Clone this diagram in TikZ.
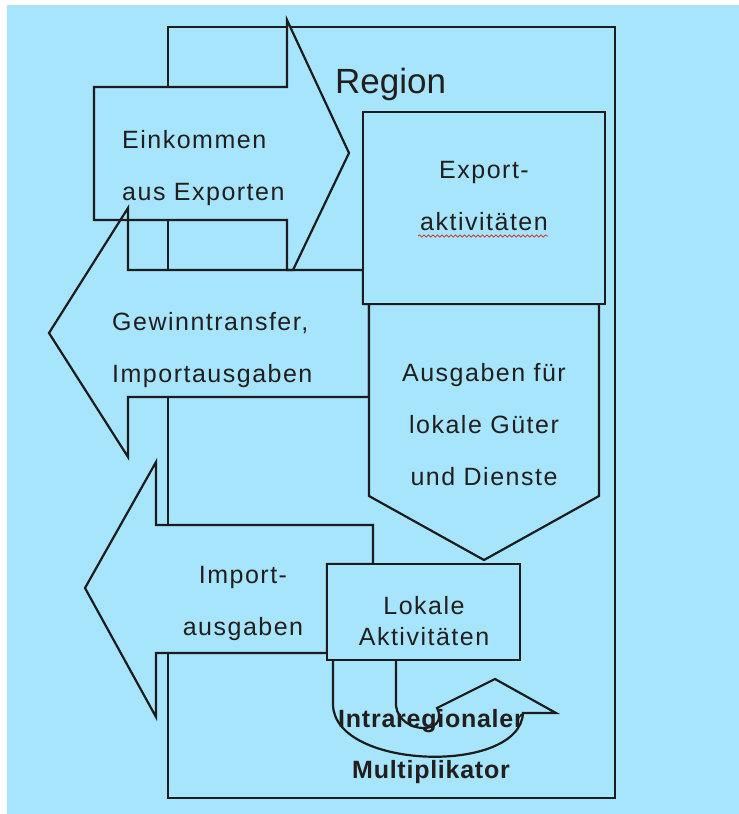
\documentclass[tikz,border=0pt]{standalone}
\usepackage{fontspec}
\setmainfont{Liberation Sans}
\newfontfamily\labelfont[LetterSpace=6]{Liberation Sans}
\newfontfamily\multfont[LetterSpace=3]{Liberation Sans}
\usetikzlibrary{decorations.pathmorphing}

\definecolor{skyfill}{RGB}{166,229,252}
\definecolor{inkline}{RGB}{28,28,28}
\definecolor{textink}{RGB}{34,30,30}
\definecolor{spellred}{RGB}{205,40,40}

\tikzset{
  outline/.style={draw=inkline, line width=2.2pt, line join=miter},
  panel/.style={outline, fill=skyfill},
  lbl/.style={font=\labelfont\fontsize{25}{52}\selectfont, text=textink, inner sep=0pt},
  smalllbl/.style={font=\labelfont\fontsize{25}{31}\selectfont, text=textink, inner sep=0pt},
  boldlbl/.style={font=\multfont\bfseries\fontsize{25}{51}\selectfont, text=textink, inner sep=0pt},
}

\begin{document}
\begin{tikzpicture}[x=1pt, y=-1pt]
  \useasboundingbox (0,0) rectangle (739,814);
  \fill[white] (0,0) rectangle (739,814);
  \fill[skyfill] (7,5) rectangle (739,814);

  % region frame
  \draw[outline] (168,27) rectangle (615,798);

  % the three broad arrows: fills first, then outlines
  \def\incomearrow{(94,87) -- (287,87) -- (287,20) -- (349,153) -- (293,270) -- (287,270) -- (287,220) -- (94,220) -- cycle}
  \def\transferarrow{(49,333) -- (128,208) -- (128,270) -- (363,270) -- (363,304) -- (369,304) -- (369,397) -- (128,397) -- (128,457) -- cycle}
  \def\importarrow{(85,588) -- (156,462) -- (156,525) -- (373,525) -- (373,564) -- (327,564) -- (327,653) -- (156,653) -- (156,717) -- cycle}
  \fill[skyfill] \incomearrow;
  \fill[skyfill] \transferarrow;
  \fill[skyfill] \importarrow;
  \draw[outline] \incomearrow;
  \draw[outline] \transferarrow;
  \draw[outline] \importarrow;

  % spending arrow and activity boxes
  \draw[panel] (369,304) -- (599,304) -- (599,496) -- (484,560) -- (369,496) -- cycle;
  \draw[panel] (363,112) rectangle (605,304);
  \draw[panel] (327,564) rectangle (520,660);

  % curved multiplier arrow below the local activities
  \draw[outline] (333,660) -- (333,705)
    .. controls (335,770) and (520,775) .. (523,713)
    -- (556,713) -- (495,679) -- (437,708)
    .. controls (450,735) and (400,735) .. (396,706) -- (396,660);

  % labels (base anchor sits on the last line)
  \node[font=\fontsize{35}{42}\selectfont, text=textink, inner sep=0pt, anchor=base west] (regionlabel) at (335,93) {Region};
  \node[lbl, align=left, anchor=base west] (incomelabel) at (122,200) {Einkommen\\aus Exporten};
  \node[lbl, align=left, anchor=base west] (transferlabel) at (112,382) {Gewinntransfer,\\Importausgaben};
  \node[lbl, align=center, anchor=base] (exportlabel) at (484,230) {Export-\\aktivitäten};
  \node[lbl, align=center, anchor=base] (spendinglabel) at (484,485) {Ausgaben für\\lokale Güter\\und Dienste};
  \node[lbl, align=center, anchor=base] (importlabel) at (243,635) {Import-\\ausgaben};
  \node[smalllbl, align=center, anchor=base] (locallabel) at (424,645) {Lokale\\Aktivitäten};
  \node[boldlbl, align=center, anchor=base] (multlabel) at (431,778) {Intraregionaler\\Multiplikator};

  % wavy spelling mark under the second export line
  \draw[spellred, line width=0.7pt, decorate, decoration={snake, amplitude=1.1pt, segment length=4.5pt}]
    (418,236) -- (548,236);
\end{tikzpicture}
\end{document}
